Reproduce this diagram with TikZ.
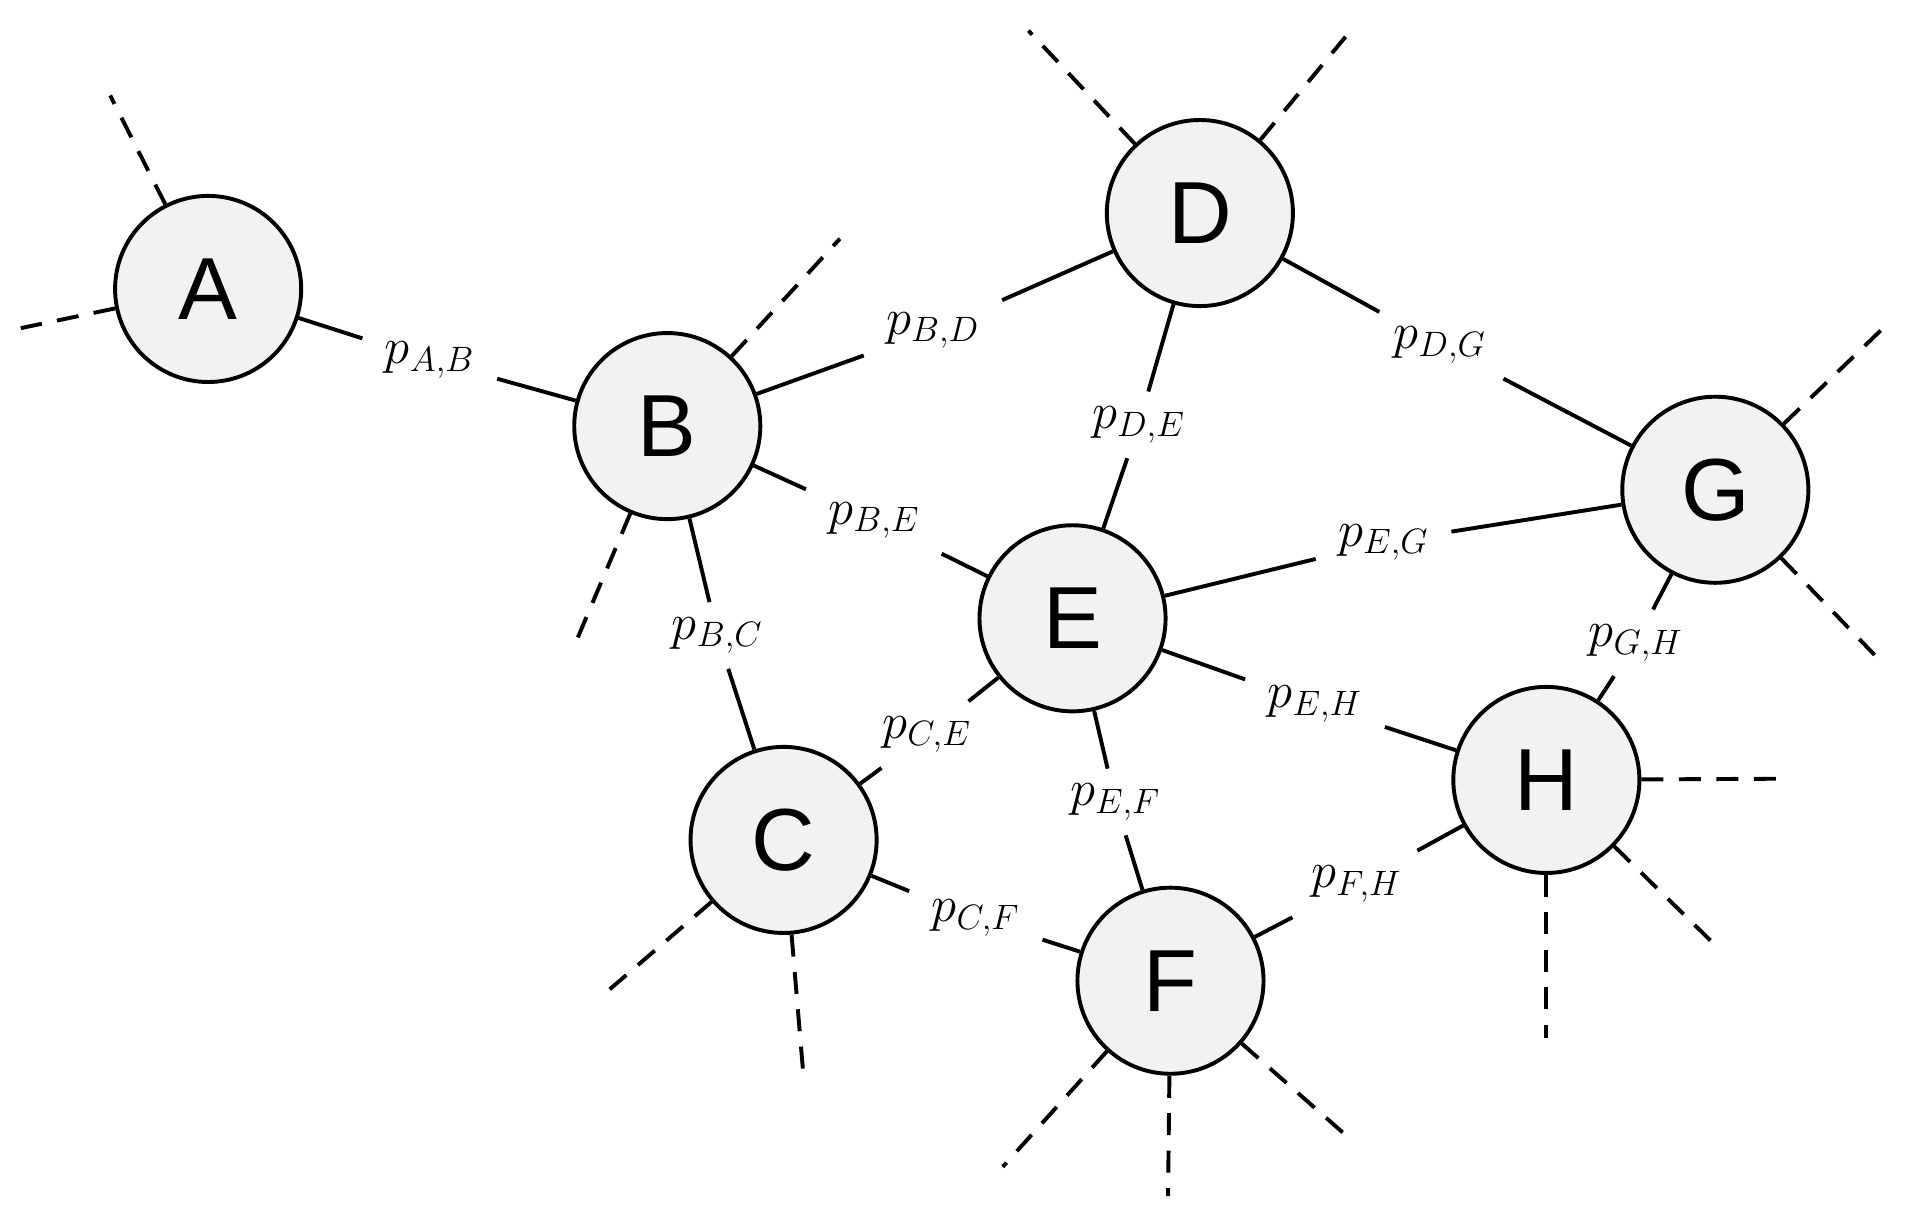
\documentclass[tikz,border=0pt]{standalone}
\usepackage{fontspec}
\setsansfont{Liberation Sans}
\definecolor{nodefill}{HTML}{F2F2F2}
\begin{document}
\begin{tikzpicture}[x=0.5pt,y=-0.5pt,
  vert/.style={circle, draw, line width=1.6pt, fill=nodefill, minimum size=76pt, inner sep=0pt,
    font=\sffamily\fontsize{36}{40}\selectfont},
  lbl/.style={inner xsep=9pt, inner ysep=6pt, font=\fontsize{20}{24}\selectfont},
  edge/.style={line width=1.6pt},
  stub/.style={line width=1.6pt, dash pattern=on 9pt off 6.3pt}]
\useasboundingbox (0,0) rectangle (1560,998);
% vertices
\node[vert] (A) at (170,236) {A};
\node[vert] (B) at (545,348) {B};
\node[vert] (C) at (640,686) {C};
\node[vert] (D) at (980,174) {D};
\node[vert] (E) at (876,505) {E};
\node[vert] (F) at (956,801) {F};
\node[vert] (G) at (1401,400) {G};
\node[vert] (H) at (1263,637) {H};
% labels
\node[lbl] (lAB) at (351,294) {$p_{A,B}$};
\node[lbl] (lBD) at (762,270) {$p_{B,D}$};
\node[lbl] (lBE) at (714,425) {$p_{B,E}$};
\node[lbl] (lBC) at (586,519) {$p_{B,C}$};
\node[lbl] (lDE) at (930,347) {$p_{D,E}$};
\node[lbl] (lDG) at (1176,282) {$p_{D,G}$};
\node[lbl] (lEG) at (1130,443) {$p_{E,G}$};
\node[lbl] (lCE) at (757,600) {$p_{C,E}$};
\node[lbl] (lCF) at (797,750) {$p_{C,F}$};
\node[lbl] (lEF) at (911,655) {$p_{E,F}$};
\node[lbl] (lEH) at (1074,575) {$p_{E,H}$};
\node[lbl] (lFH) at (1108,722) {$p_{F,H}$};
\node[lbl] (lGH) at (1336,525) {$p_{G,H}$};
% edges
\draw[edge] (A) -- (lAB) -- (B);
\draw[edge] (B) -- (lBD) -- (D);
\draw[edge] (B) -- (lBE) -- (E);
\draw[edge] (B) -- (lBC) -- (C);
\draw[edge] (D) -- (lDE) -- (E);
\draw[edge] (D) -- (lDG) -- (G);
\draw[edge] (E) -- (lEG) -- (G);
\draw[edge] (C) -- (lCE) -- (E);
\draw[edge] (C) -- (lCF) -- (F);
\draw[edge] (E) -- (lEF) -- (F);
\draw[edge] (E) -- (lEH) -- (H);
\draw[edge] (F) -- (lFH) -- (H);
\draw[edge] (G) -- (lGH) -- (H);
% free ends
\coordinate (a1) at (90,78);
\coordinate (a2) at (17,268);
\coordinate (b1) at (686,195);
\coordinate (b2) at (468,530);
\coordinate (c1) at (498,808);
\coordinate (c2) at (656,876);
\coordinate (d1) at (840,25);
\coordinate (d2) at (1099,30);
\coordinate (g1) at (1537,269);
\coordinate (g2) at (1536,540);
\coordinate (h1) at (1455,636);
\coordinate (h2) at (1401,772);
\coordinate (h3) at (1263,848);
\coordinate (f1) at (819,953);
\coordinate (f2) at (954,977);
\coordinate (f3) at (1099,927);
\foreach \n/\c in {A/a1,A/a2,B/b1,B/b2,C/c1,C/c2,D/d1,D/d2,G/g1,G/g2,H/h1,H/h2,H/h3,F/f1,F/f2,F/f3}
  \draw[stub] (\n) -- (\c);
\end{tikzpicture}
\end{document}
